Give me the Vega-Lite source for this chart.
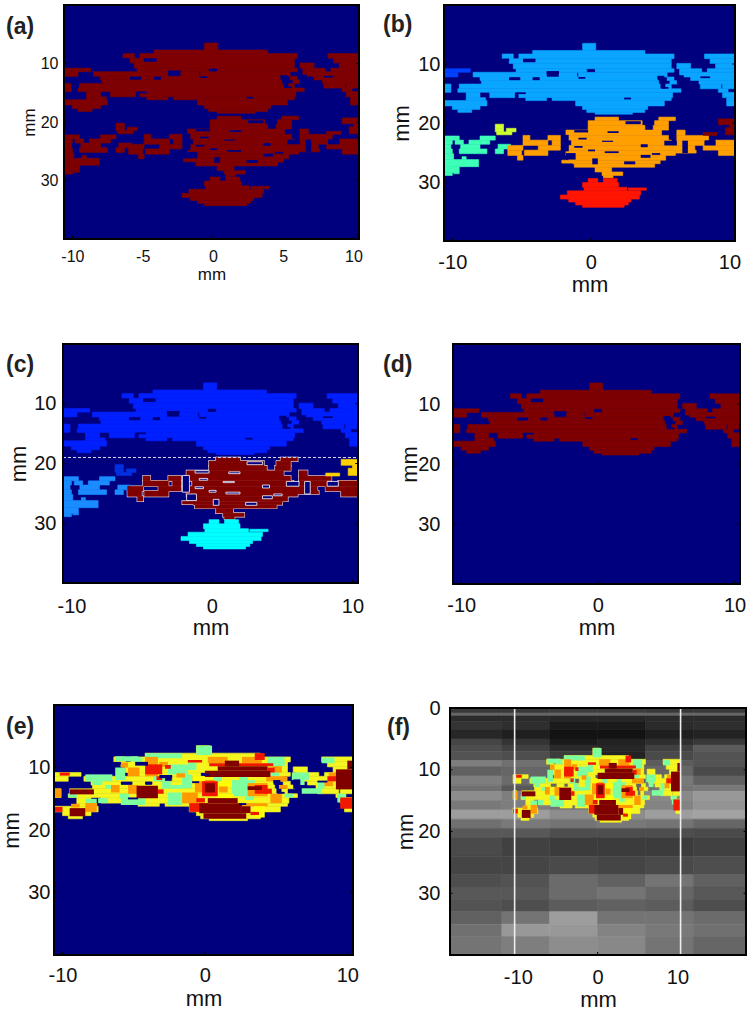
{"$schema":"https://vega.github.io/schema/vega-lite/v6.json","padding":{"left":0,"top":4,"right":0,"bottom":0},"background":"white",
"config":{"view":{"stroke":null},"font":"Liberation Sans","axis":{"grid":false,"domain":false,"ticks":false,"tickSize":0,"labelFont":"Liberation Sans","titleFont":"Liberation Sans","titleFontWeight":"normal","labelColor":"#111","titleColor":"#111","labelFlush":false,"labelBound":false,"labelOverlap":false}},
"datasets":{
"bg":[{"x0":-10.6,"x1":10.4,"y0":0,"y1":40}],
"bgf":[{"x0":-18.5,"x1":18.6,"y0":0,"y1":40}],
"dash":[{"x0":-10.6,"x1":10.4,"y0":19}],
"lines":[{"x0":-10.5,"x1":-10.3,"y0":0,"y1":40},{"x0":10.3,"x1":10.5,"y0":0,"y1":40}],
"ticks":[{"x0":-10.6,"x1":-10.4,"y0":9.92,"y1":10.08},{"x0":-10.6,"x1":-10.4,"y0":19.92,"y1":20.08},{"x0":-10.6,"x1":-10.4,"y0":29.92,"y1":30.08},{"x0":10.2,"x1":10.4,"y0":9.92,"y1":10.08},{"x0":10.2,"x1":10.4,"y0":19.92,"y1":20.08},{"x0":10.2,"x1":10.4,"y0":29.92,"y1":30.08},{"x0":-10.04,"x1":-9.96,"y0":39.5,"y1":40},{"x0":-0.04,"x1":0.04,"y0":39.5,"y1":40},{"x0":9.96,"x1":10.04,"y0":39.5,"y1":40}],
"ticksf":[{"x0":-18.5,"x1":-18.2,"y0":9.92,"y1":10.08},{"x0":-18.5,"x1":-18.2,"y0":19.92,"y1":20.08},{"x0":-18.5,"x1":-18.2,"y0":29.92,"y1":30.08},{"x0":18.3,"x1":18.6,"y0":9.92,"y1":10.08},{"x0":18.3,"x1":18.6,"y0":19.92,"y1":20.08},{"x0":18.3,"x1":18.6,"y0":29.92,"y1":30.08},{"x0":-0.06,"x1":0.06,"y0":39.5,"y1":40}],
"labels":[{"t":"(a)","x0":-14.73,"y0":3.76},{"t":"(b)","x0":-15,"y0":3.4},{"t":"(c)","x0":-14.66,"y0":3.5},{"t":"(d)","x0":-15.72,"y0":3.5},{"t":"(e)","x0":-13.97,"y0":3.5},{"t":"(f)","x0":-26.4,"y0":3.2}],
"holes":[{"x0":-6.4,"x1":-5.9,"y0":9.1,"y1":9.5},{"x0":-4.9,"x1":-4,"y0":9.1,"y1":9.7},{"x0":-3.2,"x1":-2.3,"y0":11.2,"y1":11.7},{"x0":-0.2,"x1":0.3,"y0":11,"y1":11.3},{"x0":-5.9,"x1":-5.1,"y0":12.3,"y1":12.7},{"x0":-4.2,"x1":-3.7,"y0":12.3,"y1":12.7},{"x0":-0.9,"x1":-0.4,"y0":12.2,"y1":12.5},{"x0":-5.4,"x1":-4.7,"y0":14.8,"y1":15.1},{"x0":2.4,"x1":2.9,"y0":15.7,"y1":16},{"x0":4.8,"x1":5.3,"y0":12,"y1":12.5},{"x0":6.2,"x1":6.7,"y0":11.9,"y1":13.4},{"x0":5.1,"x1":5.6,"y0":13.9,"y1":14.2},{"x0":7.9,"x1":8.6,"y0":12.1,"y1":12.4},
{"x0":-2.1,"x1":-1.6,"y0":22,"y1":24.8},{"x0":-1.8,"x1":-1.1,"y0":25.1,"y1":26.2},{"x0":-0.2,"x1":0.3,"y0":24.5,"y1":24.8},{"x0":-0.9,"x1":-0.3,"y0":22.5,"y1":22.8},{"x0":1,"x1":2,"y0":24.8,"y1":25.1},{"x0":3.6,"x1":4.1,"y0":23.6,"y1":24.1},{"x0":3.6,"x1":4.3,"y0":25.4,"y1":25.9},{"x0":0.1,"x1":0.5,"y0":26,"y1":27},{"x0":2.4,"x1":3.2,"y0":26.5,"y1":27},{"x0":5.3,"x1":6.2,"y0":23,"y1":23.8},{"x0":1.2,"x1":2,"y0":21.4,"y1":21.7},{"x0":-1.2,"x1":-0.6,"y0":23.9,"y1":24.2},{"x0":4.4,"x1":5,"y0":25.1,"y1":25.4},{"x0":-1.2,"x1":-0.2,"y0":21.2,"y1":21.6},{"x0":6.6,"x1":7,"y0":23,"y1":25.1},{"x0":8.2,"x1":9,"y0":23,"y1":23.8},{"x0":2.5,"x1":3.6,"y0":19.7,"y1":20.2},{"x0":0.8,"x1":1.6,"y0":23,"y1":23.2}],
"blobs":[
{"p":"U","x0":-0.6,"x1":0.35,"y0":6.5,"y1":7.7},{"p":"U","x0":-4.2,"x1":3.9,"y0":7.7,"y1":8.3},
{"p":"U","x0":-6.4,"x1":-5.6,"y0":8.3,"y1":9.1},{"p":"U","x0":-5.2,"x1":6,"y0":8.3,"y1":9.1},{"p":"U","x0":8.2,"x1":10.4,"y0":8.3,"y1":9.1},
{"p":"U","x0":-5.9,"x1":5.8,"y0":9.1,"y1":9.9},{"p":"U","x0":8.6,"x1":10.4,"y0":9.1,"y1":9.9},
{"p":"U","x0":-5.6,"x1":5.8,"y0":9.9,"y1":10.8},{"p":"U","x0":6.2,"x1":7.2,"y0":9.9,"y1":10.8},{"p":"U","x0":9,"x1":10.4,"y0":9.9,"y1":10.8},
{"p":"U2","x0":-10.6,"x1":-8.7,"y0":10.8,"y1":11.4},{"p":"U","x0":-5.4,"x1":-0.3,"y0":10.8,"y1":11.4},{"p":"U","x0":0.3,"x1":6,"y0":10.8,"y1":11.4},{"p":"U","x0":6.4,"x1":8,"y0":10.8,"y1":11.4},{"p":"U","x0":8.4,"x1":10.4,"y0":10.8,"y1":11.4},
{"p":"U2","x0":-10.6,"x1":-9.6,"y0":11.4,"y1":12.2},{"p":"U","x0":-8.5,"x1":-3.2,"y0":11.4,"y1":12.2},{"p":"U","x0":-2.3,"x1":-1,"y0":11.4,"y1":12.2},{"p":"U","x0":-0.9,"x1":5.5,"y0":11.4,"y1":12.2},{"p":"U","x0":6.4,"x1":10.4,"y0":11.4,"y1":12.2},
{"p":"U","x0":-8,"x1":-5.9,"y0":12.2,"y1":12.8},{"p":"U","x0":-5.1,"x1":-4.2,"y0":12.2,"y1":12.8},{"p":"U","x0":-3.7,"x1":4.8,"y0":12.2,"y1":12.8},{"p":"U","x0":5.5,"x1":6,"y0":12.2,"y1":12.8},{"p":"U","x0":7.2,"x1":10.4,"y0":12.2,"y1":12.8},
{"p":"U","x0":-7.9,"x1":4.9,"y0":12.8,"y1":13.4},{"p":"U","x0":5.7,"x1":6.3,"y0":12.8,"y1":13.4},{"p":"U","x0":7.8,"x1":10.4,"y0":12.8,"y1":13.4},
{"p":"U","x0":-10.6,"x1":-10.1,"y0":13.4,"y1":14.2},{"p":"U","x0":-9.5,"x1":5,"y0":13.4,"y1":14.2},{"p":"U","x0":5.4,"x1":5.8,"y0":13.4,"y1":14.2},{"p":"U","x0":7.9,"x1":9.4,"y0":13.4,"y1":14.2},{"p":"U","x0":9.5,"x1":10.4,"y0":13.4,"y1":14.2},
{"p":"U","x0":-10.6,"x1":-10.1,"y0":14.2,"y1":14.8},{"p":"U","x0":-9.6,"x1":6.5,"y0":14.2,"y1":14.8},{"p":"U","x0":9.2,"x1":9.9,"y0":14.2,"y1":14.8},
{"p":"U","x0":-9,"x1":-8,"y0":14.8,"y1":15.7},{"p":"U","x0":-7.3,"x1":-5.5,"y0":14.8,"y1":15.7},{"p":"U","x0":-5.2,"x1":5.9,"y0":14.8,"y1":15.7},{"p":"U","x0":9.5,"x1":10.4,"y0":14.8,"y1":15.7},
{"p":"U","x0":-9,"x1":-7.6,"y0":15.7,"y1":16.2},{"p":"U","x0":-4.7,"x1":-3.2,"y0":15.7,"y1":16.2},{"p":"U","x0":-2.8,"x1":5.8,"y0":15.7,"y1":16.2},{"p":"U","x0":9.8,"x1":10.4,"y0":15.7,"y1":16.2},
{"p":"U","x0":-10.6,"x1":-7.5,"y0":16.2,"y1":17.1},{"p":"U","x0":-1.1,"x1":5.3,"y0":16.2,"y1":17.1},{"p":"U","x0":9.8,"x1":10.4,"y0":16.2,"y1":17.1},
{"p":"U","x0":-10,"x1":-8,"y0":17.1,"y1":17.7},{"p":"U","x0":-0.6,"x1":4.1,"y0":17.1,"y1":17.7},
{"p":"U","x0":-9.6,"x1":-8.6,"y0":17.7,"y1":18.2},{"p":"U","x0":-0.3,"x1":3.9,"y0":17.7,"y1":18.2},{"p":"U","x0":0.3,"x1":3,"y0":18.2,"y1":18.5},
{"p":"Y","x0":-6.9,"x1":-6.3,"y0":20.2,"y1":20.9},{"p":"Y","x0":-6.9,"x1":-6.3,"y0":20.9,"y1":21.5},{"p":"Y","x0":-6.1,"x1":-5.4,"y0":20.9,"y1":21.5},{"p":"Y","x0":-6.8,"x1":-5.7,"y0":21.5,"y1":22},
{"p":"L","x0":-10.6,"x1":-9.5,"y0":22.2,"y1":22.9},{"p":"L","x0":-8,"x1":-6.9,"y0":22.2,"y1":22.9},{"p":"L","x0":-10.6,"x1":-10,"y0":22.9,"y1":23.6},{"p":"L","x0":-9.8,"x1":-9.2,"y0":22.9,"y1":23.6},{"p":"L","x0":-8.8,"x1":-7.3,"y0":22.9,"y1":23.6},
{"p":"L","x0":-10.6,"x1":-10.1,"y0":23.6,"y1":24.4},{"p":"L","x0":-9.4,"x1":-8,"y0":23.6,"y1":24.4},{"p":"L","x0":-6.7,"x1":-5.8,"y0":23.6,"y1":24.4},
{"p":"L","x0":-10.6,"x1":-10,"y0":24.4,"y1":25.2},{"p":"L","x0":-9.5,"x1":-7.5,"y0":24.4,"y1":25.2},{"p":"L","x0":-6.9,"x1":-6.3,"y0":24.4,"y1":25.2},
{"p":"L","x0":-10.6,"x1":-9.9,"y0":25.2,"y1":26.2},{"p":"L","x0":-9.3,"x1":-9,"y0":25.7,"y1":26.2},{"p":"L","x0":-10.6,"x1":-8.1,"y0":26.2,"y1":27.4},{"p":"L","x0":-10.6,"x1":-9.5,"y0":27.4,"y1":28.4},{"p":"L","x0":-10.6,"x1":-10,"y0":28.4,"y1":28.9},{"p":"L","x0":-9.9,"x1":-9.5,"y0":28.4,"y1":28.6},
{"p":"M","x0":0.3,"x1":2,"y0":19,"y1":19.6},{"p":"M","x0":4.9,"x1":6.1,"y0":19,"y1":19.6},
{"p":"M","x0":-0.2,"x1":3.7,"y0":19.6,"y1":20.4},{"p":"M","x0":4.6,"x1":5.6,"y0":19.6,"y1":20.4},
{"p":"M","x0":-0.2,"x1":3.9,"y0":20.4,"y1":21.2},{"p":"M","x0":4.5,"x1":5.6,"y0":20.4,"y1":21.2},
{"p":"M","x0":-1.8,"x1":5.1,"y0":21.2,"y1":22.1},{"p":"M","x0":6.2,"x1":6.8,"y0":21.2,"y1":22.1},
{"p":"M","x0":-4.9,"x1":-4.4,"y0":22.1,"y1":22.9},{"p":"M","x0":-3.1,"x1":-2.2,"y0":22.1,"y1":22.9},{"p":"M","x0":-1.9,"x1":5.6,"y0":22.1,"y1":22.9},{"p":"M","x0":6.2,"x1":8.5,"y0":22.1,"y1":22.9},
{"p":"M","x0":-4.9,"x1":-3.1,"y0":22.9,"y1":23.8},{"p":"M","x0":-2.8,"x1":-2.2,"y0":22.9,"y1":23.8},{"p":"M","x0":-1.4,"x1":5.8,"y0":22.9,"y1":23.8},{"p":"M","x0":6.2,"x1":8.2,"y0":22.9,"y1":23.8},{"p":"M","x0":9,"x1":10.4,"y0":22.9,"y1":23.8},
{"p":"M","x0":-6,"x1":-4.9,"y0":23.8,"y1":24.6},{"p":"M","x0":-3.8,"x1":-2.2,"y0":23.8,"y1":24.6},{"p":"M","x0":-1.6,"x1":7.5,"y0":23.8,"y1":24.6},{"p":"M","x0":8.1,"x1":10.4,"y0":23.8,"y1":24.6},
{"p":"M","x0":-6,"x1":-5,"y0":24.6,"y1":25.5},{"p":"M","x0":-4.8,"x1":-3.1,"y0":24.6,"y1":25.5},{"p":"M","x0":-1.8,"x1":6.1,"y0":24.6,"y1":25.5},{"p":"M","x0":6.1,"x1":7.6,"y0":24.6,"y1":25.1},{"p":"M","x0":9.2,"x1":10.4,"y0":24.6,"y1":25.5},
{"p":"M","x0":-5.3,"x1":-4.9,"y0":25.5,"y1":26.3},{"p":"M","x0":-1.6,"x1":5.4,"y0":25.5,"y1":26.3},
{"p":"M","x0":-2.1,"x1":-1.2,"y0":26.3,"y1":26.8},{"p":"M","x0":-1.3,"x1":5,"y0":26.3,"y1":26.9},{"p":"M","x0":-1.2,"x1":4.6,"y0":26.9,"y1":27.5},
{"p":"M","x0":0.3,"x1":1.5,"y0":27.5,"y1":28.3},{"p":"M","x0":0.8,"x1":2.3,"y0":28.3,"y1":28.9},{"p":"M","x0":0.9,"x1":1.6,"y0":28.9,"y1":29.3},
{"p":"R","x0":9.2,"x1":10.4,"y0":19.3,"y1":20.3},{"p":"R","x0":10,"x1":10.4,"y0":20.3,"y1":20.8},{"p":"R","x0":9.7,"x1":10.4,"y0":20.8,"y1":22},{"p":"R","x0":8.1,"x1":9.1,"y0":21.6,"y1":22.1},
{"p":"B","x0":-0.2,"x1":0.5,"y0":29.4,"y1":30.1},{"p":"B","x0":0.9,"x1":1.9,"y0":29.4,"y1":30.1},{"p":"B","x0":-0.6,"x1":2,"y0":30.1,"y1":30.9},{"p":"B","x0":-0.5,"x1":2.6,"y0":30.9,"y1":31.5},{"p":"B","x0":2.7,"x1":4,"y0":31,"y1":31.4},{"p":"B","x0":-1.7,"x1":3.6,"y0":31.5,"y1":32.2},{"p":"B","x0":-2.2,"x1":3.5,"y0":32.2,"y1":32.9},{"p":"B","x0":-1.6,"x1":2.9,"y0":32.9,"y1":33.4},{"p":"B","x0":-1.1,"x1":2.7,"y0":33.4,"y1":33.9},{"p":"B","x0":-0.6,"x1":2.4,"y0":33.9,"y1":34.3}
],
"heat":[
{"c":"g","x0":-0.6,"x1":0.5,"y0":6.5,"y1":8},{"c":"g","x0":-6.3,"x1":-4.7,"y0":8.2,"y1":9},{"c":"g","x0":-4.2,"x1":-1.6,"y0":7.7,"y1":8.5},{"c":"g","x0":-6.3,"x1":-5.6,"y0":10,"y1":12},{"c":"g","x0":-8.4,"x1":-6.5,"y0":11.1,"y1":12.2},{"c":"g","x0":-2.6,"x1":-1.2,"y0":9.5,"y1":11.1},{"c":"g","x0":-2.6,"x1":-1.6,"y0":14,"y1":16},{"c":"g","x0":-5.9,"x1":-4.2,"y0":14.9,"y1":16},{"c":"g","x0":1.9,"x1":3.5,"y0":12,"y1":14.6},{"c":"g","x0":4.4,"x1":5.6,"y0":8.3,"y1":9.8},{"c":"g","x0":6.1,"x1":7.3,"y0":10.8,"y1":12},{"c":"g","x0":8.2,"x1":9.1,"y0":8.4,"y1":9.3},{"c":"g","x0":6.8,"x1":8.2,"y0":13.3,"y1":14.2},{"c":"g","x0":-1.6,"x1":-0.9,"y0":11.1,"y1":13.3},{"c":"g","x0":-7.5,"x1":-6.8,"y0":14.9,"y1":15.7},{"c":"g","x0":-3.6,"x1":-2.8,"y0":11.4,"y1":12.2},
{"c":"g","x0":-7.9,"x1":-7.2,"y0":11.4,"y1":12.8},{"c":"g","x0":-7,"x1":-6.3,"y0":12.8,"y1":13.4},{"c":"g","x0":-6,"x1":-5.3,"y0":14.2,"y1":15},{"c":"g","x0":-5,"x1":-4.4,"y0":8.3,"y1":9.1},{"c":"g","x0":-3,"x1":-2.4,"y0":12.2,"y1":13.4},{"c":"g","x0":-2.4,"x1":-1.5,"y0":12.8,"y1":13.4},{"c":"g","x0":-1.2,"x1":-0.6,"y0":9.2,"y1":10.4},{"c":"g","x0":0.6,"x1":1.2,"y0":11.5,"y1":12.2},{"c":"g","x0":2.4,"x1":3,"y0":11.5,"y1":12.2},{"c":"g","x0":2.8,"x1":3.4,"y0":14.6,"y1":15.2},{"c":"g","x0":4.6,"x1":5.2,"y0":10.6,"y1":11.4},{"c":"g","x0":5.6,"x1":6.2,"y0":14.2,"y1":14.8},{"c":"g","x0":6.4,"x1":7,"y0":11.4,"y1":12.8},{"c":"g","x0":7.9,"x1":8.4,"y0":12.2,"y1":13.4},{"c":"g","x0":9.3,"x1":9.9,"y0":14.2,"y1":15.6},{"c":"g","x0":-8.4,"x1":-7.6,"y0":15,"y1":15.7},{"c":"g","x0":-9.6,"x1":-9,"y0":14.2,"y1":14.8},
{"c":"o","x0":-4.2,"x1":-3.3,"y0":8.3,"y1":11.4},{"c":"o","x0":-1.6,"x1":-0.5,"y0":14,"y1":15.7},{"c":"o","x0":-0.7,"x1":0.7,"y0":12,"y1":14},{"c":"o","x0":3,"x1":4.4,"y0":12.5,"y1":14.6},{"c":"o","x0":0.2,"x1":1.6,"y0":8.3,"y1":9.3},{"c":"o","x0":2.6,"x1":4,"y0":8.3,"y1":9.3},{"c":"o","x0":8.7,"x1":9.8,"y0":10.8,"y1":12.2},{"c":"o","x0":-5.4,"x1":-4.7,"y0":12.8,"y1":14.2},{"c":"o","x0":-5.4,"x1":-4.6,"y0":10,"y1":11.4},{"c":"o","x0":4.6,"x1":5.4,"y0":14.2,"y1":15.7},{"c":"o","x0":2,"x1":4.4,"y0":15.7,"y1":16.2},{"c":"o","x0":-8.4,"x1":-7.6,"y0":15.7,"y1":17.1},{"c":"o","x0":-10.6,"x1":-10.1,"y0":13.4,"y1":14.8},{"c":"o","x0":5,"x1":5.8,"y0":11.4,"y1":12.2},{"c":"o","x0":-6.6,"x1":-6,"y0":12.8,"y1":14},{"c":"o","x0":-5.9,"x1":-5.4,"y0":9.2,"y1":10},{"c":"o","x0":-2,"x1":-1.4,"y0":10.9,"y1":11.6},{"c":"o","x0":-3.2,"x1":-2.6,"y0":9.1,"y1":9.9},{"c":"o","x0":-1.1,"x1":-0.5,"y0":14.8,"y1":15.4},{"c":"o","x0":1,"x1":1.6,"y0":13,"y1":14},{"c":"o","x0":4.3,"x1":5,"y0":11.4,"y1":12.2},{"c":"o","x0":4.8,"x1":5.4,"y0":9.8,"y1":10.8},{"c":"o","x0":5.2,"x1":5.8,"y0":12.8,"y1":13.4},{"c":"o","x0":8.4,"x1":9,"y0":12.2,"y1":13},{"c":"o","x0":-9.4,"x1":-8.8,"y0":15.8,"y1":16.4},
{"c":"y","x0":1,"x1":1.9,"y0":12.2,"y1":13},{"c":"y","x0":-0.8,"x1":0,"y0":11.4,"y1":12.2},{"c":"y","x0":0.8,"x1":2,"y0":14.2,"y1":14.9},{"c":"y","x0":3.5,"x1":4.2,"y0":16.2,"y1":18},
{"c":"r","x0":-4.2,"x1":-3,"y0":9.5,"y1":11.1},{"c":"r","x0":-0.2,"x1":0.9,"y0":12.2,"y1":14.6},{"c":"r","x0":-1.1,"x1":0.2,"y0":15.7,"y1":17.1},{"c":"r","x0":3.5,"x1":4.4,"y0":12.8,"y1":14.2},{"c":"r","x0":3.5,"x1":4.2,"y0":7.7,"y1":8.8},{"c":"r","x0":-1.2,"x1":-0.2,"y0":8.8,"y1":9.2},{"c":"r","x0":-10.2,"x1":-9.5,"y0":10.8,"y1":11.3},{"c":"r","x0":-10.6,"x1":-10,"y0":16.3,"y1":17.1},{"c":"r","x0":0.3,"x1":4.8,"y0":9.3,"y1":9.8},{"c":"r","x0":9.5,"x1":10.4,"y0":14.8,"y1":16.6},{"c":"r","x0":-3.4,"x1":-3,"y0":11.4,"y1":12},{"c":"r","x0":-2.8,"x1":-2.4,"y0":9.6,"y1":10.2},{"c":"r","x0":4.4,"x1":4.9,"y0":10,"y1":10.8},{"c":"r","x0":4.2,"x1":4.7,"y0":13.4,"y1":14.2},{"c":"r","x0":-0.6,"x1":0,"y0":14.9,"y1":15.6},{"c":"r","x0":8.6,"x1":9.2,"y0":11.4,"y1":12.2},{"c":"r","x0":-3.3,"x1":-2.9,"y0":13.5,"y1":14.2},{"c":"r","x0":3.2,"x1":3.8,"y0":17.1,"y1":17.6},
{"c":"m","x0":0.9,"x1":4.4,"y0":9.8,"y1":10.5},{"c":"m","x0":0,"x1":4.6,"y0":10.5,"y1":11.5},{"c":"m","x0":1.4,"x1":2.4,"y0":8.9,"y1":9.8},{"c":"m","x0":0.2,"x1":2.3,"y0":14.9,"y1":15.7},{"c":"m","x0":-0.4,"x1":2.6,"y0":15.7,"y1":17.3},{"c":"m","x0":-0.1,"x1":2.9,"y0":17.3,"y1":18.2},{"c":"m","x0":2.6,"x1":3.2,"y0":16.2,"y1":17.3},{"c":"m","x0":-4.8,"x1":-3.3,"y0":12.9,"y1":14.9},{"c":"m","x0":9.2,"x1":10.4,"y0":10.3,"y1":13.5},{"c":"m","x0":-9.5,"x1":-7.8,"y0":13.5,"y1":14.3},{"c":"m","x0":-9.5,"x1":-8.4,"y0":16.5,"y1":17.8},{"c":"m","x0":0,"x1":0.7,"y0":12.5,"y1":14},{"c":"m","x0":10,"x1":10.4,"y0":8.9,"y1":10.3},{"c":"m","x0":3,"x1":4,"y0":13,"y1":13.6}
],
"gray":[
{"x0":-18.5,"x1":-12,"y0":0,"y1":0.8,"g":60},{"x0":-12,"x1":-6,"y0":0,"y1":0.8,"g":60},{"x0":-6,"x1":0,"y0":0,"y1":0.8,"g":65},{"x0":0,"x1":6,"y0":0,"y1":0.8,"g":65},{"x0":6,"x1":12,"y0":0,"y1":0.8,"g":60},{"x0":12,"x1":18.6,"y0":0,"y1":0.8,"g":60},
{"x0":-18.5,"x1":18.6,"y0":0.8,"y1":1.3,"g":110},
{"x0":-18.5,"x1":-12,"y0":1.3,"y1":2.2,"g":45},{"x0":-12,"x1":-6,"y0":1.3,"y1":2.2,"g":45},{"x0":-6,"x1":0,"y0":1.3,"y1":2.2,"g":40},{"x0":0,"x1":6,"y0":1.3,"y1":2.2,"g":40},{"x0":6,"x1":12,"y0":1.3,"y1":2.2,"g":45},{"x0":12,"x1":18.6,"y0":1.3,"y1":2.2,"g":45},
{"x0":-18.5,"x1":-12,"y0":2.2,"y1":3.5,"g":55},{"x0":-12,"x1":-6,"y0":2.2,"y1":3.5,"g":50},{"x0":-6,"x1":0,"y0":2.2,"y1":3.5,"g":25},{"x0":0,"x1":6,"y0":2.2,"y1":3.5,"g":25},{"x0":6,"x1":12,"y0":2.2,"y1":3.5,"g":45},{"x0":12,"x1":18.6,"y0":2.2,"y1":3.5,"g":50},
{"x0":-18.5,"x1":-12,"y0":3.5,"y1":5,"g":40},{"x0":-12,"x1":-6,"y0":3.5,"y1":5,"g":30},{"x0":-6,"x1":0,"y0":3.5,"y1":5,"g":15},{"x0":0,"x1":6,"y0":3.5,"y1":5,"g":15},{"x0":6,"x1":12,"y0":3.5,"y1":5,"g":30},{"x0":12,"x1":18.6,"y0":3.5,"y1":5,"g":35},
{"x0":-18.5,"x1":-12,"y0":5,"y1":6,"g":75},{"x0":-12,"x1":-6,"y0":5,"y1":6,"g":55},{"x0":-6,"x1":0,"y0":5,"y1":6,"g":25},{"x0":0,"x1":6,"y0":5,"y1":6,"g":35},{"x0":6,"x1":12,"y0":5,"y1":6,"g":50},{"x0":12,"x1":18.6,"y0":5,"y1":6,"g":60},
{"x0":-18.5,"x1":-12,"y0":6,"y1":7,"g":85},{"x0":-12,"x1":-6,"y0":6,"y1":7,"g":70},{"x0":-6,"x1":0,"y0":6,"y1":7,"g":45},{"x0":0,"x1":6,"y0":6,"y1":7,"g":40},{"x0":6,"x1":12,"y0":6,"y1":7,"g":70},{"x0":12,"x1":18.6,"y0":6,"y1":7,"g":100},
{"x0":-18.5,"x1":-12,"y0":7,"y1":8.5,"g":90},{"x0":-12,"x1":-6,"y0":7,"y1":8.5,"g":85},{"x0":-6,"x1":0,"y0":7,"y1":8.5,"g":65},{"x0":0,"x1":6,"y0":7,"y1":8.5,"g":35},{"x0":6,"x1":12,"y0":7,"y1":8.5,"g":80},{"x0":12,"x1":18.6,"y0":7,"y1":8.5,"g":90},
{"x0":-18.5,"x1":-12,"y0":8.5,"y1":9.5,"g":135},{"x0":-12,"x1":-6,"y0":8.5,"y1":9.5,"g":120},{"x0":-6,"x1":0,"y0":8.5,"y1":9.5,"g":95},{"x0":0,"x1":6,"y0":8.5,"y1":9.5,"g":95},{"x0":6,"x1":12,"y0":8.5,"y1":9.5,"g":100},{"x0":12,"x1":18.6,"y0":8.5,"y1":9.5,"g":90},
{"x0":-18.5,"x1":-12,"y0":9.5,"y1":11,"g":105},{"x0":-12,"x1":-6,"y0":9.5,"y1":11,"g":110},{"x0":-6,"x1":0,"y0":9.5,"y1":11,"g":100},{"x0":0,"x1":6,"y0":9.5,"y1":11,"g":100},{"x0":6,"x1":12,"y0":9.5,"y1":11,"g":110},{"x0":12,"x1":18.6,"y0":9.5,"y1":11,"g":80},
{"x0":-18.5,"x1":-12,"y0":11,"y1":12.5,"g":135},{"x0":-12,"x1":-6,"y0":11,"y1":12.5,"g":115},{"x0":-6,"x1":0,"y0":11,"y1":12.5,"g":105},{"x0":0,"x1":6,"y0":11,"y1":12.5,"g":105},{"x0":6,"x1":12,"y0":11,"y1":12.5,"g":130},{"x0":12,"x1":18.6,"y0":11,"y1":12.5,"g":105},
{"x0":-18.5,"x1":-12,"y0":12.5,"y1":13.5,"g":120},{"x0":-12,"x1":-6,"y0":12.5,"y1":13.5,"g":95},{"x0":-6,"x1":0,"y0":12.5,"y1":13.5,"g":100},{"x0":0,"x1":6,"y0":12.5,"y1":13.5,"g":100},{"x0":6,"x1":12,"y0":12.5,"y1":13.5,"g":125},{"x0":12,"x1":18.6,"y0":12.5,"y1":13.5,"g":130},
{"x0":-18.5,"x1":-12,"y0":13.5,"y1":15,"g":150},{"x0":-12,"x1":-6,"y0":13.5,"y1":15,"g":135},{"x0":-6,"x1":0,"y0":13.5,"y1":15,"g":120},{"x0":0,"x1":6,"y0":13.5,"y1":15,"g":120},{"x0":6,"x1":12,"y0":13.5,"y1":15,"g":145},{"x0":12,"x1":18.6,"y0":13.5,"y1":15,"g":160},
{"x0":-18.5,"x1":-12,"y0":15,"y1":16.5,"g":130},{"x0":-12,"x1":-6,"y0":15,"y1":16.5,"g":135},{"x0":-6,"x1":0,"y0":15,"y1":16.5,"g":125},{"x0":0,"x1":6,"y0":15,"y1":16.5,"g":125},{"x0":6,"x1":12,"y0":15,"y1":16.5,"g":140},{"x0":12,"x1":18.6,"y0":15,"y1":16.5,"g":155},
{"x0":-18.5,"x1":-12,"y0":16.5,"y1":18,"g":165},{"x0":-12,"x1":-6,"y0":16.5,"y1":18,"g":165},{"x0":-6,"x1":0,"y0":16.5,"y1":18,"g":150},{"x0":0,"x1":6,"y0":16.5,"y1":18,"g":150},{"x0":6,"x1":12,"y0":16.5,"y1":18,"g":165},{"x0":12,"x1":18.6,"y0":16.5,"y1":18,"g":170},
{"x0":-18.5,"x1":-12,"y0":18,"y1":19.5,"g":120},{"x0":-12,"x1":-6,"y0":18,"y1":19.5,"g":130},{"x0":-6,"x1":0,"y0":18,"y1":19.5,"g":125},{"x0":0,"x1":6,"y0":18,"y1":19.5,"g":130},{"x0":6,"x1":12,"y0":18,"y1":19.5,"g":125},{"x0":12,"x1":18.6,"y0":18,"y1":19.5,"g":110},
{"x0":-18.5,"x1":-12,"y0":19.5,"y1":21,"g":95},{"x0":-12,"x1":-6,"y0":19.5,"y1":21,"g":95},{"x0":-6,"x1":0,"y0":19.5,"y1":21,"g":85},{"x0":0,"x1":6,"y0":19.5,"y1":21,"g":85},{"x0":6,"x1":12,"y0":19.5,"y1":21,"g":85},{"x0":12,"x1":18.6,"y0":19.5,"y1":21,"g":80},
{"x0":-18.5,"x1":-12,"y0":21,"y1":24,"g":80},{"x0":-12,"x1":-6,"y0":21,"y1":24,"g":70},{"x0":-6,"x1":0,"y0":21,"y1":24,"g":65},{"x0":0,"x1":6,"y0":21,"y1":24,"g":65},{"x0":6,"x1":12,"y0":21,"y1":24,"g":65},{"x0":12,"x1":18.6,"y0":21,"y1":24,"g":70},
{"x0":-18.5,"x1":-12,"y0":24,"y1":27,"g":75},{"x0":-12,"x1":-6,"y0":24,"y1":27,"g":75},{"x0":-6,"x1":0,"y0":24,"y1":27,"g":80},{"x0":0,"x1":6,"y0":24,"y1":27,"g":75},{"x0":6,"x1":12,"y0":24,"y1":27,"g":80},{"x0":12,"x1":18.6,"y0":24,"y1":27,"g":85},
{"x0":-18.5,"x1":-12,"y0":27,"y1":29,"g":85},{"x0":-12,"x1":-6,"y0":27,"y1":29,"g":90},{"x0":-6,"x1":0,"y0":27,"y1":29,"g":115},{"x0":0,"x1":6,"y0":27,"y1":29,"g":105},{"x0":6,"x1":12,"y0":27,"y1":29,"g":125},{"x0":12,"x1":18.6,"y0":27,"y1":29,"g":105},
{"x0":-18.5,"x1":-12,"y0":29,"y1":31,"g":95},{"x0":-12,"x1":-6,"y0":29,"y1":31,"g":95},{"x0":-6,"x1":0,"y0":29,"y1":31,"g":115},{"x0":0,"x1":6,"y0":29,"y1":31,"g":125},{"x0":6,"x1":12,"y0":29,"y1":31,"g":110},{"x0":12,"x1":18.6,"y0":29,"y1":31,"g":95},
{"x0":-18.5,"x1":-12,"y0":31,"y1":33,"g":90},{"x0":-12,"x1":-6,"y0":31,"y1":33,"g":85},{"x0":-6,"x1":0,"y0":31,"y1":33,"g":100},{"x0":0,"x1":6,"y0":31,"y1":33,"g":105},{"x0":6,"x1":12,"y0":31,"y1":33,"g":100},{"x0":12,"x1":18.6,"y0":31,"y1":33,"g":85},
{"x0":-18.5,"x1":-12,"y0":33,"y1":35,"g":105},{"x0":-12,"x1":-6,"y0":33,"y1":35,"g":125},{"x0":-6,"x1":0,"y0":33,"y1":35,"g":165},{"x0":0,"x1":6,"y0":33,"y1":35,"g":125},{"x0":6,"x1":12,"y0":33,"y1":35,"g":125},{"x0":12,"x1":18.6,"y0":33,"y1":35,"g":115},
{"x0":-18.5,"x1":-12,"y0":35,"y1":37,"g":120},{"x0":-12,"x1":-6,"y0":35,"y1":37,"g":160},{"x0":-6,"x1":0,"y0":35,"y1":37,"g":160},{"x0":0,"x1":6,"y0":35,"y1":37,"g":140},{"x0":6,"x1":12,"y0":35,"y1":37,"g":130},{"x0":12,"x1":18.6,"y0":35,"y1":37,"g":120},
{"x0":-18.5,"x1":-12,"y0":37,"y1":40,"g":125},{"x0":-12,"x1":-6,"y0":37,"y1":40,"g":135},{"x0":-6,"x1":0,"y0":37,"y1":40,"g":150},{"x0":0,"x1":6,"y0":37,"y1":40,"g":145},{"x0":6,"x1":12,"y0":37,"y1":40,"g":125},{"x0":12,"x1":18.6,"y0":37,"y1":40,"g":110}
]},
"concat":[
{"width":305,"height":236,
"encoding":{"x":{"field":"x0","type":"quantitative","scale":{"domain":[-10.6,10.4],"range":[10,305]},"axis":{"values":[-10,-5,0,5,10],"labelExpr":"replace(datum.label,'−','-')","title":"mm","labelFontSize":16,"titleFontSize":17,"labelPadding":7,"titlePadding":2}},"x2":{"field":"x1"},"y":{"field":"y0","type":"quantitative","scale":{"domain":[0,40],"range":[0,234]},"axis":{"values":[10,20,30],"title":"mm","labelFontSize":16,"titleFontSize":17,"labelPadding":-4,"titlePadding":2}},"y2":{"field":"y1"}},
"layer":[
{"data":{"name":"bg"},"mark":{"type":"rect","fill":"#00007f"}},
{"data":{"name":"blobs"},"mark":{"type":"rect","fill":"#7f0000","stroke":"#7f0000","strokeWidth":0.6}},
{"data":{"name":"holes"},"mark":{"type":"rect","fill":"#00007f"}},
{"data":{"name":"ticks"},"mark":{"type":"rect","fill":"black"}},
{"data":{"name":"bg"},"mark":{"type":"rect","fill":null,"stroke":"black","strokeWidth":2}},
{"data":{"name":"labels"},"transform":[{"filter":"datum.t=='(a)'"}],"mark":{"type":"text","align":"left","baseline":"middle","fontWeight":"bold","fontSize":23,"font":"Liberation Sans","color":"#222"},"encoding":{"text":{"field":"t"},"x2":null,"y2":null}}
]},
{"width":302,"height":236,
"encoding":{"x":{"field":"x0","type":"quantitative","scale":{"domain":[-10.6,10.4],"range":[0,291]},"axis":{"values":[-10,0,10],"labelExpr":"replace(datum.label,'−','-')","title":"mm","labelFontSize":20,"titleFontSize":22,"labelPadding":11,"titlePadding":2}},"x2":{"field":"x1"},"y":{"field":"y0","type":"quantitative","scale":{"domain":[0,40],"range":[0,236]},"axis":{"values":[10,20,30],"title":"mm","labelFontSize":20,"titleFontSize":22,"labelPadding":4,"titlePadding":4}},"y2":{"field":"y1"}},
"layer":[
{"data":{"name":"bg"},"mark":{"type":"rect","fill":"#00007f"}},
{"data":{"name":"blobs"},"mark":{"type":"rect","strokeWidth":0.6},"encoding":{"fill":{"field":"p","type":"nominal","legend":null,"scale":{"domain":["U","U2","L","Y","M","R","B"],"range":["#0aa5ff","#0040ff","#3dffb8","#d0ff30","#ffa000","#800000","#ff1500"]}},"stroke":{"field":"p","type":"nominal","legend":null,"scale":{"domain":["U","U2","L","Y","M","R","B"],"range":["#0aa5ff","#0040ff","#3dffb8","#d0ff30","#ffa000","#800000","#ff1500"]}}}},
{"data":{"name":"holes"},"mark":{"type":"rect","fill":"#00007f"}},
{"data":{"name":"ticks"},"mark":{"type":"rect","fill":"black"}},
{"data":{"name":"bg"},"mark":{"type":"rect","fill":null,"stroke":"black","strokeWidth":2}},
{"data":{"name":"labels"},"transform":[{"filter":"datum.t=='(b)'"}],"mark":{"type":"text","align":"left","baseline":"middle","fontWeight":"bold","fontSize":23,"font":"Liberation Sans","color":"#222"},"encoding":{"text":{"field":"t"},"x2":null,"y2":null}}
]},
{"width":305,"height":243,
"encoding":{"x":{"field":"x0","type":"quantitative","scale":{"domain":[-10.6,10.4],"range":[9,304]},"axis":{"values":[-10,0,10],"labelExpr":"replace(datum.label,'−','-')","title":"mm","labelFontSize":20,"titleFontSize":22,"labelPadding":12,"titlePadding":1}},"x2":{"field":"x1"},"y":{"field":"y0","type":"quantitative","scale":{"domain":[0,40],"range":[3,242]},"axis":{"values":[10,20,30],"title":"mm","labelFontSize":20,"titleFontSize":22,"labelPadding":-2,"titlePadding":3}},"y2":{"field":"y1"}},
"layer":[
{"data":{"name":"bg"},"mark":{"type":"rect","fill":"#00007f"}},
{"data":{"name":"blobs"},"transform":[{"filter":"datum.p=='M'"}],"mark":{"type":"rect","fill":"#800000","stroke":"white","strokeWidth":1.6}},
{"data":{"name":"blobs"},"mark":{"type":"rect","strokeWidth":0.6},"encoding":{"fill":{"field":"p","type":"nominal","legend":null,"scale":{"domain":["U","U2","L","Y","M","R","B"],"range":["#0020ff","#0020ff","#1a8cff","#0030e0","#800000","#ffd000","#00ffff"]}},"stroke":{"field":"p","type":"nominal","legend":null,"scale":{"domain":["U","U2","L","Y","M","R","B"],"range":["#0020ff","#0020ff","#1a8cff","#0030e0","#800000","#ffd000","#00ffff"]}}}},
{"data":{"name":"holes"},"transform":[{"filter":"datum.y0<19"}],"mark":{"type":"rect","fill":"#00007f"}},
{"data":{"name":"holes"},"transform":[{"filter":"datum.y0>19"}],"mark":{"type":"rect","fill":"#00007f","stroke":"white","strokeWidth":0.8}},
{"data":{"name":"dash"},"mark":{"type":"rule","color":"#d8d8f0","strokeWidth":1,"strokeDash":[3,2]},"encoding":{"y2":null}},
{"data":{"name":"ticks"},"mark":{"type":"rect","fill":"black"}},
{"data":{"name":"bg"},"mark":{"type":"rect","fill":null,"stroke":"black","strokeWidth":2}},
{"data":{"name":"labels"},"transform":[{"filter":"datum.t=='(c)'"}],"mark":{"type":"text","align":"left","baseline":"middle","fontWeight":"bold","fontSize":23,"font":"Liberation Sans","color":"#222"},"encoding":{"text":{"field":"t"},"x2":null,"y2":null}}
]},
{"width":302,"height":243,
"encoding":{"x":{"field":"x0","type":"quantitative","scale":{"domain":[-10.6,10.4],"range":[9,296]},"axis":{"values":[-10,0,10],"labelExpr":"replace(datum.label,'−','-')","title":"mm","labelFontSize":20,"titleFontSize":22,"labelPadding":11,"titlePadding":2}},"x2":{"field":"x1"},"y":{"field":"y0","type":"quantitative","scale":{"domain":[0,40],"range":[3,243]},"axis":{"values":[10,20,30],"title":"mm","labelFontSize":20,"titleFontSize":22,"labelPadding":4,"titlePadding":-4}},"y2":{"field":"y1"}},
"layer":[
{"data":{"name":"bg"},"mark":{"type":"rect","fill":"#00007f"}},
{"data":{"name":"blobs"},"transform":[{"filter":"datum.p=='U'||datum.p=='U2'"}],"mark":{"type":"rect","fill":"#7f0000","stroke":"#7f0000","strokeWidth":0.6}},
{"data":{"name":"holes"},"transform":[{"filter":"datum.y0<19"}],"mark":{"type":"rect","fill":"#00007f"}},
{"data":{"name":"ticks"},"mark":{"type":"rect","fill":"black"}},
{"data":{"name":"bg"},"mark":{"type":"rect","fill":null,"stroke":"black","strokeWidth":2}},
{"data":{"name":"labels"},"transform":[{"filter":"datum.t=='(d)'"}],"mark":{"type":"text","align":"left","baseline":"middle","fontWeight":"bold","fontSize":23,"font":"Liberation Sans","color":"#222"},"encoding":{"text":{"field":"t"},"x2":null,"y2":null}}
]},
{"width":305,"height":271,
"encoding":{"x":{"field":"x0","type":"quantitative","scale":{"domain":[-10.6,10.4],"range":[0,299]},"axis":{"values":[-10,0,10],"labelExpr":"replace(datum.label,'−','-')","title":"mm","labelFontSize":20,"titleFontSize":22,"labelPadding":10,"titlePadding":3}},"x2":{"field":"x1"},"y":{"field":"y0","type":"quantitative","scale":{"domain":[0,40],"range":[21,271]},"axis":{"values":[10,20,30],"title":"mm","labelFontSize":20,"titleFontSize":22,"labelPadding":4,"titlePadding":4}},"y2":{"field":"y1"}},
"layer":[
{"data":{"name":"bg"},"mark":{"type":"rect","fill":"#00007f"}},
{"data":{"name":"blobs"},"transform":[{"filter":"datum.p=='U'||datum.p=='U2'"}],"mark":{"type":"rect","fill":"#f5f520","stroke":"#f5f520","strokeWidth":0.6}},
{"data":{"name":"heat"},"mark":{"type":"rect"},"encoding":{"fill":{"field":"c","type":"nominal","legend":null,"scale":{"domain":["g","y","o","r","m"],"range":["#7dffa0","#ffff00","#ff9a00","#f01800","#800000"]}}}},
{"data":{"name":"holes"},"transform":[{"filter":"datum.y0<19"}],"mark":{"type":"rect","fill":"#00007f"}},
{"data":{"name":"ticks"},"mark":{"type":"rect","fill":"black"}},
{"data":{"name":"bg"},"mark":{"type":"rect","fill":null,"stroke":"black","strokeWidth":2}},
{"data":{"name":"labels"},"transform":[{"filter":"datum.t=='(e)'"}],"mark":{"type":"text","align":"left","baseline":"middle","fontWeight":"bold","fontSize":23,"font":"Liberation Sans","color":"#222"},"encoding":{"text":{"field":"t"},"x2":null,"y2":null}}
]},
{"width":302,"height":271,
"encoding":{"x":{"field":"x0","type":"quantitative","scale":{"domain":[-18.5,18.6],"range":[6,302]},"axis":{"values":[-10,0,10],"labelExpr":"replace(datum.label,'−','-')","title":"mm","labelFontSize":20,"titleFontSize":22,"labelPadding":12,"titlePadding":2}},"x2":{"field":"x1"},"y":{"field":"y0","type":"quantitative","scale":{"domain":[0,40],"range":[24,271]},"axis":{"values":[0,10,20,30],"title":"mm","labelFontSize":20,"titleFontSize":22,"labelPadding":4,"titlePadding":0}},"y2":{"field":"y1"}},
"layer":[
{"data":{"name":"gray"},"mark":{"type":"rect","strokeWidth":0.6},"encoding":{"fill":{"field":"g","type":"quantitative","legend":null,"scale":{"domain":[0,255],"range":["#000000","#ffffff"]}},"stroke":{"field":"g","type":"quantitative","legend":null,"scale":{"domain":[0,255],"range":["#000000","#ffffff"]}}}},
{"data":{"name":"blobs"},"transform":[{"filter":"datum.p=='U'||datum.p=='U2'"}],"mark":{"type":"rect","fill":"#f5f520","stroke":"#f5f520","strokeWidth":0.6}},
{"data":{"name":"heat"},"mark":{"type":"rect"},"encoding":{"fill":{"field":"c","type":"nominal","legend":null,"scale":{"domain":["g","y","o","r","m"],"range":["#7dffa0","#ffff00","#ff9a00","#f01800","#800000"]}}}},
{"data":{"name":"lines"},"mark":{"type":"rect","fill":"#eeeeee"}},
{"data":{"name":"ticksf"},"mark":{"type":"rect","fill":"black"}},
{"data":{"name":"bgf"},"mark":{"type":"rect","fill":null,"stroke":"black","strokeWidth":2}},
{"data":{"name":"labels"},"transform":[{"filter":"datum.t=='(f)'"}],"mark":{"type":"text","align":"left","baseline":"middle","fontWeight":"bold","fontSize":23,"font":"Liberation Sans","color":"#222"},"encoding":{"text":{"field":"t"},"x2":null,"y2":null}}
],"resolve":{"scale":{"fill":"independent"}}}
],
"columns":2,"bounds":"flush","spacing":{"column":85,"row":100},
"resolve":{"scale":{"x":"independent","y":"independent","fill":"independent","stroke":"independent"}}}
